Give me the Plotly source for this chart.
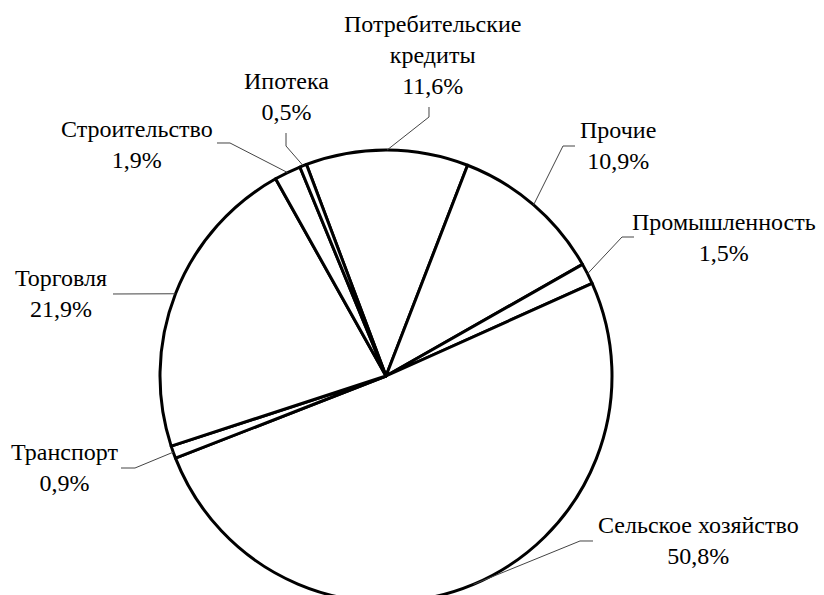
import math
import plotly.graph_objects as go

# ---- data ----
labels = ["Потребительские<br>кредиты", "Прочие", "Промышленность", "Сельское хозяйство",
          "Транспорт", "Торговля", "Строительство", "Ипотека"]
values = [11.6, 10.9, 1.5, 50.8, 0.9, 21.9, 1.9, 0.5]

# ---- layout constants (screen pixels) ----
W, H = 824, 610
OFF = 8  # page body margin
CX, CY, R = 386, 376, 226
ROTATION = -20.6  # start of first slice, degrees clockwise from 12 o'clock
FONT = dict(family="Liberation Serif", size=24, color="black")

# label block centres and leader-line elbows (screen pixels)
label_pos = [(432, 55), (618, 145), (724, 238), (698, 540), (64, 468), (61, 294), (137, 144), (286, 97)]
elbows = [
    [(429, 117), (429, 107)],
    [(563, 146), (575, 146)],
    [(622, 237), (634, 237)],
    [(580, 541), (593, 541)],
    [(135, 468), (121, 468)],
    [(113, 294)],
    [(230, 143), (217, 143)],
    [(286, 146), (286, 133)],
]

def px(x):
    return (x - OFF) / W

def py(y):
    return 1 - (y - OFF) / H

fig = go.Figure(go.Pie(
    labels=labels, values=values, sort=False, direction="clockwise", rotation=ROTATION,
    textinfo="none", hoverinfo="label+percent",
    marker=dict(colors=["white"] * len(values), line=dict(color="black", width=3)),
    domain=dict(x=[px(CX - R), px(CX + R)], y=[py(CY + R), py(CY - R)]),
    showlegend=False,
))

total = sum(values)
acc = 0.0
for lab, v, (lx, ly), elb in zip(labels, values, label_pos, elbows):
    mid = ROTATION + 360 * (acc + v / 2) / total
    acc += v
    a = math.radians(mid)
    ex, ey = CX + R * math.sin(a), CY - R * math.cos(a)
    pts = [(ex, ey)] + elb
    path = "M " + " L ".join(f"{px(x):.5f},{py(y):.5f}" for x, y in pts)
    fig.add_shape(type="path", path=path, xref="paper", yref="paper",
                  line=dict(color="#444444", width=1))
    pct = f"{v:.1f}".replace(".", ",") + "%"
    fig.add_annotation(x=px(lx), y=py(ly), xref="paper", yref="paper", text=f"{lab}<br>{pct}",
                       showarrow=False, xanchor="center", yanchor="middle", font=FONT, align="center")

fig.update_layout(width=W, height=H, margin=dict(l=0, r=0, t=0, b=0),
                  font=dict(family="Liberation Serif"),
                  paper_bgcolor="white", plot_bgcolor="white")
fig.write_html("out.html")
